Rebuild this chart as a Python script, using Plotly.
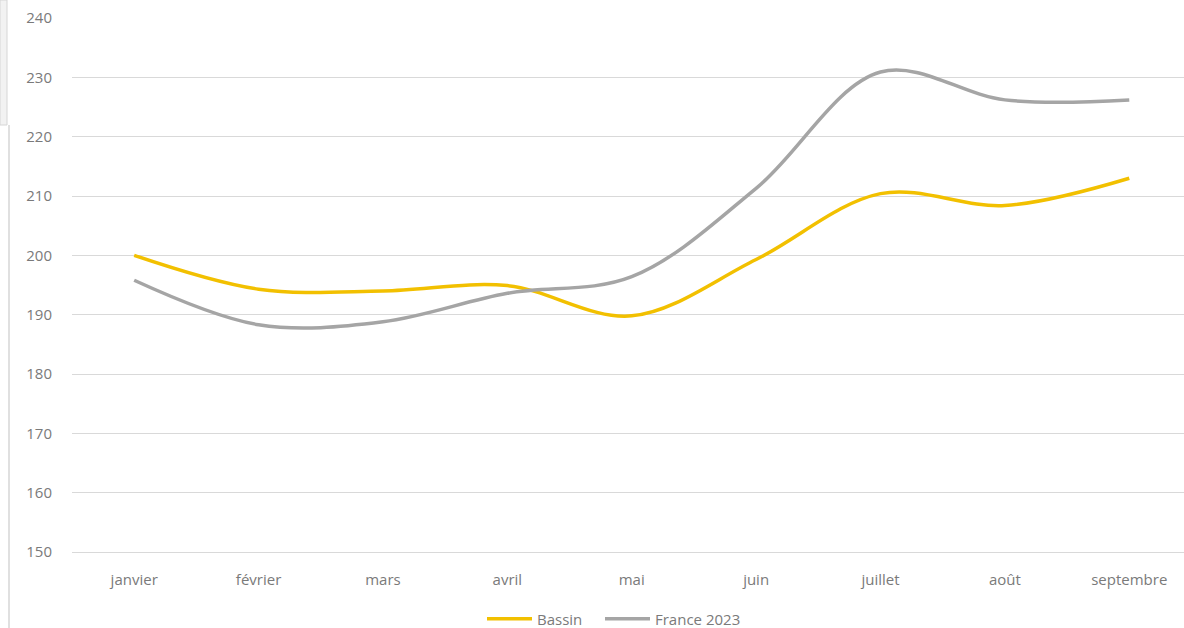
import plotly.graph_objects as go

months = ["janvier", "février", "mars", "avril", "mai", "juin", "juillet", "août", "septembre"]
bassin = [200.0, 194.3, 194.0, 194.9, 189.8, 199.3, 210.4, 208.4, 213.0]
france_2023 = [195.8, 188.3, 188.8, 193.6, 196.4, 211.3, 230.9, 226.2, 226.2]
y_ticks = [150, 160, 170, 180, 190, 200, 210, 220, 230, 240]

W, H = 1184, 628
L, R, T, B = 72, 0, 18, 76
pw, ph = W - L - R, H - T - B

def px_x(p):
    return (p - L) / pw

def px_y(p):
    return (H - B - p) / ph

fig = go.Figure()
fig.add_trace(go.Scatter(
    x=months, y=bassin, name="Bassin", mode="lines", legend="legend",
    line=dict(color="#F2C000", width=3.5, shape="spline", smoothing=1.0),
))
fig.add_trace(go.Scatter(
    x=months, y=france_2023, name="France 2023", mode="lines", legend="legend2",
    line=dict(color="#A5A5A5", width=3.5, shape="spline", smoothing=1.0),
))

font = dict(family="Open Sans, Liberation Sans, sans-serif", size=15, color="#7A7A7A")
leg_common = dict(orientation="h", xanchor="left", y=-0.1255, yanchor="middle",
                  font=dict(size=15, color="#7A7A7A"), itemwidth=45,
                  bgcolor="rgba(0,0,0,0)")

fig.update_layout(
    width=W, height=H,
    margin=dict(l=L, r=R, t=T, b=B, pad=0, autoexpand=False),
    paper_bgcolor="white", plot_bgcolor="white",
    font=font,
    showlegend=True,
    legend=dict(x=px_x(482), **leg_common),
    legend2=dict(x=px_x(600), **leg_common),
    xaxis=dict(
        type="category", range=[-0.5, 8.44], automargin=False,
        showgrid=False, zeroline=False, showline=True, linecolor="#D9D9D9", linewidth=1,
        ticks="", ticklabelstandoff=14, tickfont=font,
    ),
    yaxis=dict(
        range=[150, 240], tickvals=y_ticks, automargin=False,
        showgrid=True, gridcolor="#D9D9D9", gridwidth=1,
        zeroline=False, showline=False, ticks="",
        ticklabelstandoff=19, tickfont=font,
    ),
    shapes=[
        dict(type="rect", xref="paper", yref="paper",
             x0=px_x(0), x1=px_x(7), y0=px_y(125), y1=px_y(0),
             fillcolor="#F2F2F2", line=dict(color="#D6D6D6", width=1), layer="above"),
        dict(type="line", xref="paper", yref="paper",
             x0=px_x(9), x1=px_x(9), y0=px_y(628), y1=px_y(125),
             line=dict(color="#D6D6D6", width=1.5)),
    ],
)

fig.write_html(
    "out.html",
    config={"displayModeBar": False},
    post_script="document.body.style.margin='0';document.body.style.overflow='hidden';",
)
